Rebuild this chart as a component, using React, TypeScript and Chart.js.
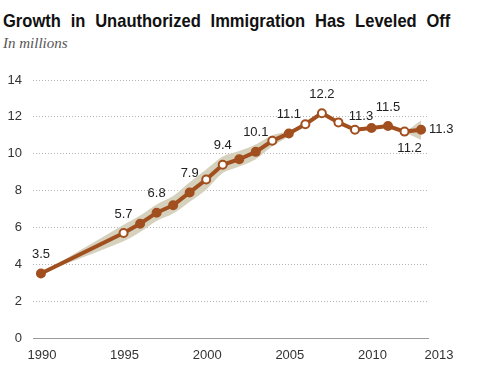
import React, { useEffect, useRef } from "react";
import { Chart, registerables } from "chart.js";

Chart.register(...registerables);

const TITLE = "Growth in Unauthorized Immigration Has Leveled Off";
const SUBTITLE = "In millions";

const years = [1990, 1995, 1996, 1997, 1998, 1999, 2000, 2001, 2002, 2003, 2004, 2005, 2006, 2007, 2008, 2009, 2010, 2011, 2012, 2013];
const values = [3.5, 5.7, 6.2, 6.8, 7.2, 7.9, 8.6, 9.4, 9.7, 10.1, 10.7, 11.1, 11.6, 12.2, 11.7, 11.3, 11.4, 11.5, 11.2, 11.3];
const hollow = [false, true, false, false, false, false, true, true, false, false, true, false, true, true, true, true, false, false, true, false];
const valueLabels = ["3.5", "5.7", null, "6.8", null, "7.9", null, "9.4", null, "10.1", null, "11.1", null, "12.2", null, "11.3", null, "11.5", "11.2", "11.3"];
const bandLow = [3.5, 5.25, 5.75, 6.35, 6.75, 7.4, 8.05, 8.95, 9.3, 9.7, 10.4, 10.95, 11.55, 12.15, 11.65, 11.25, 11.35, 11.45, 11.15, 10.75];
const bandHigh = [3.5, 6.15, 6.65, 7.25, 7.7, 8.45, 9.15, 9.85, 10.15, 10.5, 11.0, 11.25, 11.65, 12.25, 11.75, 11.35, 11.45, 11.55, 11.25, 11.8];
const xTicks = [1990, 1995, 2000, 2005, 2010, 2013];
const yTicks = [0, 2, 4, 6, 8, 10, 12, 14];

const BROWN = "#a24f1f";
const BAND = "#d6d1bd";

const pts = (arr: number[]) => years.map((y, i) => ({ x: y, y: arr[i] }));

export default function App() {
  const ref = useRef<HTMLCanvasElement | null>(null);

  useEffect(() => {
    const canvas = ref.current;
    if (!canvas) return;

    const labelPlugin = {
      id: "valueLabels",
      afterDatasetsDraw(chart: any) {
        const meta = chart.getDatasetMeta(0);
        const ctx = chart.ctx;
        ctx.save();
        ctx.font = "13px 'Liberation Sans', Arial, sans-serif";
        ctx.fillStyle = "#222";
        ctx.textBaseline = "middle";
        meta.data.forEach((el: any, i: number) => {
          const t = valueLabels[i];
          if (!t) return;
          const yr = years[i];
          if (yr === 2013) {
            ctx.textAlign = "left";
            ctx.fillText(t, el.x + 8, el.y);
          } else if (yr === 2012) {
            ctx.textAlign = "center";
            ctx.fillText(t, el.x + 5, el.y + 17);
          } else if (yr === 2009) {
            ctx.textAlign = "center";
            ctx.fillText(t, el.x + 6, el.y - 13);
          } else {
            ctx.textAlign = "center";
            ctx.fillText(t, el.x, el.y - 19);
          }
        });
        ctx.restore();
      },
      afterDraw(chart: any) {
        const xs = chart.scales.x;
        const ctx = chart.ctx;
        ctx.save();
        ctx.font = "13px 'Liberation Sans', Arial, sans-serif";
        ctx.fillStyle = "#333";
        ctx.textAlign = "center";
        ctx.textBaseline = "middle";
        xTicks.forEach((v) => {
          const px = xs.getPixelForValue(v) + (v === 2013 ? 18 : 1);
          ctx.fillText(String(v), px, chart.chartArea.bottom + 17);
        });
        ctx.restore();
      },
    };

    const chart = new Chart(canvas, {
      type: "line",
      data: {
        datasets: [
          {
            data: pts(values),
            borderColor: BROWN,
            borderWidth: 4,
            tension: 0,
            fill: false,
            pointRadius: 4,
            pointBorderWidth: 2,
            pointBorderColor: BROWN,
            pointBackgroundColor: hollow.map((h) => (h ? "#ffffff" : BROWN)),
          },
          {
            data: pts(bandHigh),
            borderWidth: 0,
            pointRadius: 0,
            fill: false,
            tension: 0.3,
            backgroundColor: BAND,
            borderColor: "rgba(0,0,0,0)",
          },
          {
            data: pts(bandLow),
            borderWidth: 0,
            pointRadius: 0,
            fill: "-1",
            tension: 0.3,
            backgroundColor: BAND,
            borderColor: "rgba(0,0,0,0)",
          },
        ],
      },
      options: {
        responsive: false,
        animation: false,
        devicePixelRatio: 1,
        layout: { padding: { left: 0, right: 54, top: 80, bottom: 0 } },
        plugins: { legend: { display: false }, tooltip: { enabled: false } },
        scales: {
          x: {
            type: "linear",
            min: 1989.52,
            max: 2013.42,
            afterBuildTicks: (s: any) => {
              s.ticks = xTicks.map((v) => ({ value: v }));
            },
            afterFit: (s: any) => {
              s.height = 38;
            },
            ticks: { display: false },
            grid: { display: false, drawTicks: false },
            border: { display: true, color: "#9a9a9a", width: 1 },
          },
          y: {
            min: 0,
            max: 14,
            afterBuildTicks: (s: any) => {
              s.ticks = yTicks.map((v) => ({ value: v }));
            },
            afterFit: (s: any) => {
              s.width = 33;
            },
            ticks: {
              padding: 11,
              color: "#333",
              font: { family: "'Liberation Sans', Arial, sans-serif", size: 13 },
            },
            grid: { drawTicks: false, color: "#b5b5b5", lineWidth: 1 },
            border: { display: false, dash: [1, 2] },
          },
        },
      },
      plugins: [labelPlugin],
    });
    return () => chart.destroy();
  }, []);

  return (
    <div style={{ position: "absolute", left: 0, top: 0, width: 482, height: 376, background: "#fff" }}>
      <div
        style={{
          position: "absolute",
          left: 3,
          top: 11,
          fontFamily: "'Liberation Sans', Arial, sans-serif",
          fontWeight: "bold",
          fontSize: 19,
          lineHeight: "19px",
          color: "#111",
          whiteSpace: "nowrap",
          wordSpacing: 6,
          transform: "scaleX(0.87)",
          transformOrigin: "0 0",
        }}
      >
        {TITLE}
      </div>
      <div
        style={{
          position: "absolute",
          left: 3,
          top: 36,
          fontFamily: "'Liberation Serif', serif",
          fontStyle: "italic",
          fontSize: 15,
          lineHeight: "15px",
          color: "#555",
          whiteSpace: "nowrap",
        }}
      >
        {SUBTITLE}
      </div>
      <canvas ref={ref} width={482} height={376} style={{ position: "absolute", left: 0, top: 0, width: 482, height: 376 }} />
    </div>
  );
}
